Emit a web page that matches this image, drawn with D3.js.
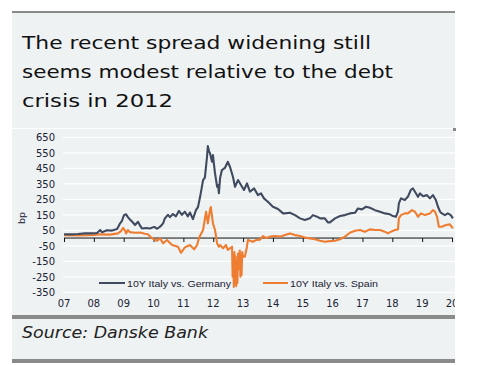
<!DOCTYPE html>
<html><head><meta charset="utf-8">
<script src="https://cdn.jsdelivr.net/npm/d3@7"></script>
<style>html,body{margin:0;padding:0;background:#fff;}svg{display:block;}</style>
</head><body>
<script>
const titleLines = ["The recent spread widening still", "seems modest relative to the debt", "crisis in 2012"];
const sourceText = "Source: Danske Bank";
const yTicks = [650, 550, 450, 350, 250, 150, 50, -50, -150, -250, -350];
const xYears = [2007,2008,2009,2010,2011,2012,2013,2014,2015,2016,2017,2018,2019,2020];
const xLabels = ["07","08","09","10","11","12","13","14","15","16","17","18","19","20"];
const seriesNames = ["10Y Italy vs. Germany", "10Y Italy vs. Spain"];

const igDates = [2007.00,2007.20,2007.47,2007.70,2007.94,2008.11,2008.21,2008.27,2008.44,2008.61,2008.78,2008.88,2008.94,2009.01,2009.08,2009.14,2009.21,2009.31,2009.38,2009.48,2009.55,2009.61,2009.75,2009.88,2010.02,2010.12,2010.22,2010.32,2010.38,2010.48,2010.55,2010.65,2010.75,2010.85,2010.95,2011.05,2011.15,2011.22,2011.32,2011.42,2011.49,2011.56,2011.62,2011.66,2011.72,2011.79,2011.82,2011.86,2011.89,2011.96,2011.99,2012.06,2012.13,2012.16,2012.19,2012.23,2012.29,2012.39,2012.49,2012.56,2012.66,2012.73,2012.83,2012.93,2013.03,2013.13,2013.23,2013.37,2013.50,2013.60,2013.70,2013.83,2014.00,2014.17,2014.34,2014.40,2014.57,2014.74,2014.91,2015.07,2015.24,2015.34,2015.48,2015.58,2015.74,2015.84,2015.91,2016.08,2016.25,2016.41,2016.58,2016.75,2016.85,2016.98,2017.12,2017.25,2017.42,2017.59,2017.75,2017.92,2018.02,2018.12,2018.19,2018.22,2018.29,2018.42,2018.52,2018.62,2018.69,2018.76,2018.86,2018.93,2019.03,2019.16,2019.26,2019.36,2019.46,2019.53,2019.60,2019.66,2019.76,2019.86,2019.96,2020.03];
const igValues = [25,24,26,30,30,33,52,38,50,48,58,95,110,148,153,135,120,100,84,105,80,62,65,62,72,60,73,95,127,150,135,155,140,175,150,170,140,165,122,180,200,266,330,374,390,520,593,560,548,492,535,417,331,342,290,387,439,452,492,460,395,331,374,342,310,353,299,320,277,288,256,234,202,187,159,159,163,148,127,116,127,148,138,127,127,101,101,127,142,148,159,163,191,185,202,195,180,170,159,153,142,137,170,224,256,245,266,310,320,299,266,288,270,277,256,277,245,202,170,159,148,159,148,127];

const isDates = [2007.00,2007.54,2008.04,2008.21,2008.54,2008.81,2008.91,2008.98,2009.04,2009.08,2009.14,2009.21,2009.38,2009.55,2009.71,2009.81,2009.91,2010.02,2010.12,2010.22,2010.32,2010.45,2010.62,2010.82,2010.92,2011.05,2011.22,2011.36,2011.46,2011.52,2011.66,2011.76,2011.82,2011.89,2011.92,2011.99,2012.06,2012.13,2012.19,2012.23,2012.33,2012.43,2012.49,2012.56,2012.63,2012.65,2012.67,2012.69,2012.71,2012.73,2012.75,2012.77,2012.79,2012.81,2012.83,2012.85,2012.87,2012.89,2012.91,2012.93,2012.95,2012.97,2013.00,2013.06,2013.13,2013.16,2013.33,2013.43,2013.57,2013.67,2013.77,2013.90,2014.07,2014.24,2014.40,2014.57,2014.74,2014.91,2015.07,2015.24,2015.41,2015.58,2015.74,2015.91,2016.08,2016.25,2016.41,2016.58,2016.75,2016.92,2017.08,2017.25,2017.42,2017.59,2017.75,2017.85,2017.95,2018.09,2018.19,2018.22,2018.29,2018.42,2018.52,2018.66,2018.76,2018.86,2018.96,2019.09,2019.26,2019.36,2019.43,2019.50,2019.56,2019.66,2019.80,2019.93,2020.03];
const isValues = [19,17,20,24,22,30,45,66,50,30,52,38,34,36,28,24,5,-8,-17,-2,-34,-13,-45,-56,-95,-60,-45,-73,-45,0,52,170,95,180,200,95,52,-34,-56,-45,-66,-45,-77,-66,-56,-250,-110,-315,-90,-300,-120,-310,-150,-290,-100,-200,-130,-80,-250,-110,-240,-90,-120,-120,-56,-13,-24,-13,-10,13,0,9,13,9,19,30,19,13,4,-2,-8,-17,-24,-20,-17,-8,9,34,47,52,41,56,52,52,41,30,41,52,56,127,148,159,159,180,170,137,159,148,159,180,170,137,73,73,84,88,62];

const W = 479, H = 365;
const bg = "#eef2f3", frame = "#8a8a8a", navy = "#414b60", orange = "#ef7d31", txt = "#111";
const FONT = "DejaVu Sans, Verdana, sans-serif";
const svg = d3.select("body").append("svg").attr("width", W).attr("height", H);

svg.append("rect").attr("x",12).attr("y",12).attr("width",443).attr("height",348).attr("fill",bg);
svg.append("rect").attr("x",12).attr("y",11).attr("width",443).attr("height",2).attr("fill",frame);
svg.append("rect").attr("x",12).attr("y",128).attr("width",443).attr("height",1).attr("fill","#fff");
svg.append("rect").attr("x",453).attr("y",128).attr("width",3).attr("height",3).attr("fill",frame);
svg.append("rect").attr("x",12).attr("y",315).attr("width",443).attr("height",4).attr("fill",frame);
svg.append("rect").attr("x",12).attr("y",359).attr("width",443).attr("height",4).attr("fill",frame);

const titleW = [349, 371, 151];
titleLines.forEach((t,i)=>svg.append("text").attr("x",22).attr("y",48.5+i*29.2)
  .attr("font-family",FONT).attr("font-size",17.5).attr("fill",txt)
  .attr("textLength",titleW[i]).attr("lengthAdjust","spacingAndGlyphs").text(t));

svg.append("text").attr("x",22).attr("y",338).attr("font-family",FONT)
  .attr("font-style","italic").attr("font-size",16.5).attr("fill","#222")
  .attr("textLength",186).attr("lengthAdjust","spacingAndGlyphs").text(sourceText);

const x = d3.scaleLinear().domain([2007, 2020]).range([64, 452]);
const y = d3.scaleLinear().domain([-350, 650]).range([292.3, 137.3]);

const g = svg.append("g");
g.selectAll("line.grid").data(yTicks).join("line").attr("class","grid")
  .attr("x1",63).attr("x2",455).attr("y1",d=>y(d)).attr("y2",d=>y(d))
  .attr("stroke","#fff").attr("stroke-width",1.2);

g.selectAll("text.yl").data(yTicks).join("text").attr("class","yl")
  .attr("x",55).attr("y",d=>y(d)+3.7).attr("text-anchor","end")
  .attr("font-family",FONT).attr("font-size",10).attr("fill","#1a2233").text(d=>d);

svg.append("text").attr("transform","translate(25,218) rotate(-90)").attr("text-anchor","middle")
  .attr("font-family",FONT).attr("font-size",9.5).attr("fill","#1a2233").text("bp");

const xAxis = d3.axisBottom(x).tickValues(xYears).tickSize(4).tickFormat("");
const ax = g.append("g").attr("transform",`translate(0,${y(0)})`).call(xAxis);
ax.select(".domain").attr("stroke","#111").attr("d",`M${x(2007)},0H${x(2020)+1}`);
ax.selectAll(".tick line").attr("stroke","#111");

svg.append("clipPath").attr("id","clip").append("rect").attr("x",12).attr("y",0).attr("width",443).attr("height",H);
svg.append("g").attr("clip-path","url(#clip)").selectAll("text.xl").data(xYears).join("text")
  .attr("x",d=>x(d)).attr("y",307).attr("text-anchor","middle")
  .attr("font-family",FONT).attr("font-size",10).attr("fill","#1a2233")
  .text((d,i)=>xLabels[i]);

const leg = [{c:navy,x1:99,x2:125,tx:127,w:104},{c:orange,x1:263,x2:288,tx:290,w:88}];
leg.forEach((l,i)=>{
  svg.append("line").attr("x1",l.x1).attr("x2",l.x2).attr("y1",283).attr("y2",283).attr("stroke",l.c).attr("stroke-width",2);
  svg.append("text").attr("x",l.tx).attr("y",286.5).attr("font-family","Liberation Sans, Arial, sans-serif")
    .attr("font-size",9.5).attr("fill","#1a2233").attr("textLength",l.w).attr("lengthAdjust","spacingAndGlyphs").text(seriesNames[i]);
});

const line = d3.line().x(d=>x(d[0])).y(d=>y(d[1]));
svg.append("path").datum(isDates.map((d,i)=>[d,isValues[i]])).attr("d",line)
  .attr("fill","none").attr("stroke",orange).attr("stroke-width",2.1).attr("stroke-linejoin","round");
svg.append("path").datum(igDates.map((d,i)=>[d,igValues[i]])).attr("d",line)
  .attr("fill","none").attr("stroke",navy).attr("stroke-width",2.1).attr("stroke-linejoin","round");
</script>
</body></html>
